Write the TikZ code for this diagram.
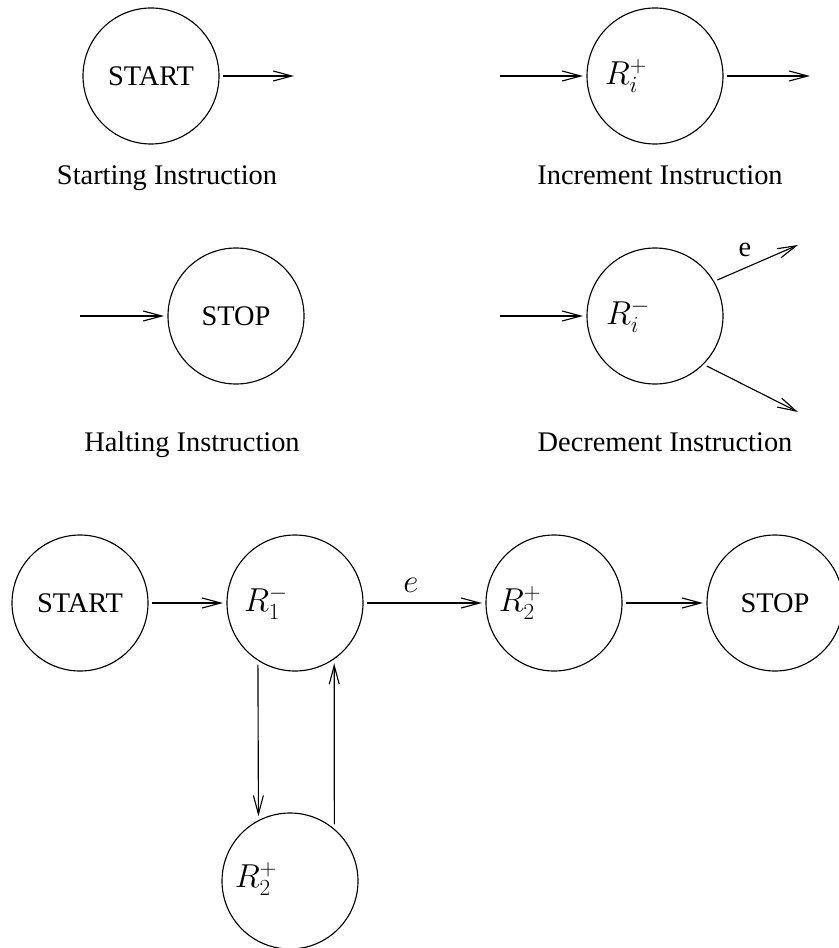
\documentclass[tikz,border=0pt]{standalone}
\usepackage[no-math]{fontspec}
\setmainfont{Liberation Serif}
\usetikzlibrary{arrows.meta}
\begin{document}
\begin{tikzpicture}[x=0.75pt,y=-0.75pt,
  st/.style={circle,draw,line width=0.85pt,minimum size=102pt,inner sep=0pt,outer sep=3pt,font=\fontsize{21.3}{25}\selectfont},
  arr/.style={line width=0.85pt,-{Straight Barb[length=14pt,width=7.5pt,line width=0.85pt]}},
  captxt/.style={font=\fontsize{21.3}{25}\selectfont,inner sep=0pt,anchor=base},
  mlab/.style={font=\fontsize{23}{27}\selectfont,inner sep=0pt}]
\useasboundingbox (0,0) rectangle (838,948);
% Starting instruction
\node[st] (start) at (151,76) {START};
\coordinate (startout) at (294,76);
\draw[arr] (start) -- (startout);
\node[captxt] (capstart) at (167,185) {Starting Instruction};
% Increment instruction
\node[st] (inc) at (655,76) {};
\node[mlab] (inclab) at (626,76) {$R_i^+$};
\coordinate (incin) at (500,76);
\coordinate (incout) at (810,76);
\draw[arr] (incin) -- (inc);
\draw[arr] (inc) -- (incout);
\node[captxt] (capinc) at (660,185) {Increment Instruction};
% Halting instruction
\node[st] (stop) at (236,316) {STOP};
\coordinate (stopin) at (80,316);
\draw[arr] (stopin) -- (stop);
\node[captxt] (capstop) at (192,451) {Halting Instruction};
% Decrement instruction
\node[st] (dec) at (655,316) {};
\node[mlab] (declab) at (628,316) {$R_i^-$};
\coordinate (decin) at (500,316);
\coordinate (decout1) at (798,245);
\coordinate (decout2) at (798,412);
\draw[arr] (decin) -- (dec);
\draw[arr] (dec.30) -- (decout1);
\draw[arr] (dec.-44) -- (decout2);
\node[mlab,font=\fontsize{21.3}{25}\selectfont] (elab) at (745,250) {e};
\node[captxt] (capdec) at (665,451) {Decrement Instruction};
% Example program
\node[st] (s2) at (80,603) {START};
\node[st] (r1) at (295,603) {};
\node[mlab] (r1lab) at (266,603) {$R_1^-$};
\node[st] (r2) at (554,603) {};
\node[mlab] (r2lab) at (520,603) {$R_2^+$};
\node[st] (h2) at (775,603) {STOP};
\node[st] (r2b) at (290,881) {};
\node[mlab] (r2blab) at (256,879) {$R_2^+$};
\draw[arr] (s2) -- (r1);
\draw[arr] (r1) -- (r2);
\node[mlab] (elab2) at (411,585) {$e$};
\draw[arr] (r2) -- (h2);
\draw[arr] (r1.239) -- (r2b.116);
\draw[arr] (r2b.52) -- (r1.303);
\end{tikzpicture}
\end{document}
